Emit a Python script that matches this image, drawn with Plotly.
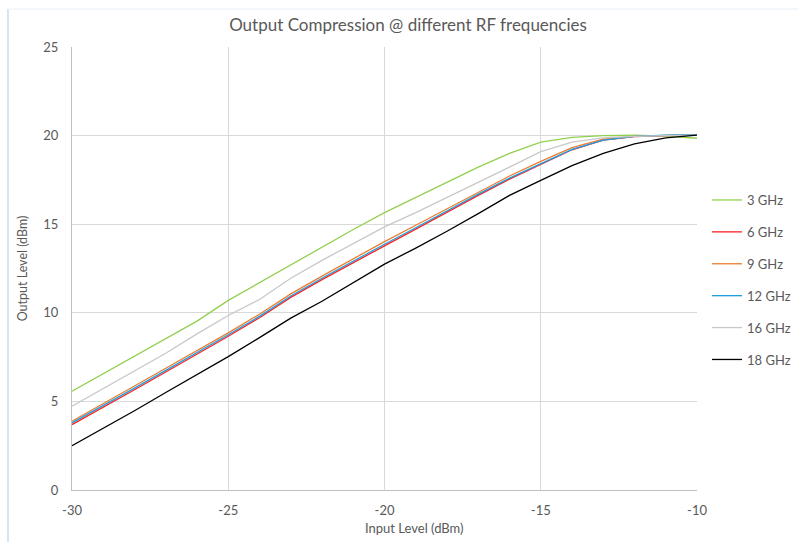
import plotly.graph_objects as go

input_dbm = [-30, -29, -28, -27, -26, -25, -24, -23, -22, -21, -20,
             -19, -18, -17, -16, -15, -14, -13, -12, -11, -10]

ghz3 = [5.57, 6.57, 7.56, 8.55, 9.53, 10.7, 11.7, 12.7, 13.7, 14.7, 15.65,
        16.5, 17.38, 18.22, 19.0, 19.63, 19.9, 20.0, 20.02, 19.97, 19.85]
ghz6 = [3.69, 4.66, 5.66, 6.66, 7.66, 8.68, 9.72, 10.87, 11.87, 12.84, 13.78,
        14.72, 15.68, 16.63, 17.54, 18.37, 19.2, 19.74, 19.94, 20.0, 20.04]
ghz9 = [3.88, 4.86, 5.87, 6.87, 7.87, 8.87, 9.92, 11.07, 12.07, 13.05, 14.02,
        14.94, 15.88, 16.82, 17.72, 18.55, 19.32, 19.8, 19.96, 20.01, 20.04]
ghz12 = [3.79, 4.75, 5.75, 6.75, 7.75, 8.76, 9.8, 10.95, 11.95, 12.92, 13.87,
         14.8, 15.75, 16.7, 17.6, 18.41, 19.22, 19.75, 19.96, 20.02, 20.05]
ghz16 = [4.73, 5.74, 6.74, 7.72, 8.81, 9.85, 10.75, 11.95, 12.96, 13.92, 14.85,
         15.65, 16.5, 17.38, 18.22, 19.1, 19.63, 19.87, 19.96, 20.0, 20.02]
ghz18 = [2.5, 3.47, 4.47, 5.5, 6.5, 7.53, 8.6, 9.7, 10.65, 11.72, 12.75,
         13.65, 14.6, 15.6, 16.63, 17.47, 18.3, 19.0, 19.53, 19.87, 20.03]

series_names = ["3 GHz", "6 GHz", "9 GHz", "12 GHz", "16 GHz", "18 GHz"]
series_values = [ghz3, ghz6, ghz9, ghz12, ghz16, ghz18]
series_colors = ["#92d050", "#ff2020", "#ed7d31", "#1e9fe0", "#c8c8c8", "#000000"]

x_tickvals = [-30, -25, -20, -15, -10]
x_ticktext = ["-30", "-25", "-20", "-15", "-10"]
y_tickvals = [0, 5, 10, 15, 20, 25]
y_ticktext = ["0", "5", "10", "15", "20", "25"]

FONT = "Lato"
TXT = "#595959"

fig = go.Figure()
for name, vals, col in zip(series_names, series_values, series_colors):
    fig.add_trace(go.Scatter(x=input_dbm, y=vals, mode="lines", name=name,
                             legendgroup=name,
                             line=dict(color=col, width=1.3)))

fig.update_layout(
    width=798, height=542,
    margin=dict(l=72, r=101, t=47, b=52, autoexpand=False),
    paper_bgcolor="white", plot_bgcolor="white",
    font=dict(family=FONT, size=13, color=TXT),
    title=dict(text="Output Compression @ different RF frequencies",
               x=408 / 798, xanchor="center", y=1 - 25 / 542, yanchor="middle",
               font=dict(family=FONT, size=17, color=TXT)),
    showlegend=True,
    legend=dict(x=1.016, xanchor="left", y=0.474, yanchor="middle",
                font=dict(family=FONT, size=13, color=TXT),
                tracegroupgap=12, bgcolor="rgba(0,0,0,0)"),
    xaxis=dict(range=[-30, -10], tickvals=x_tickvals, ticktext=x_ticktext,
               showgrid=True, gridcolor="#d9d9d9", gridwidth=1,
               showline=True, linecolor="#bfbfbf", linewidth=1,
               zeroline=False, ticks="", ticklabelstandoff=8,
               tickfont=dict(family=FONT, size=13, color=TXT)),
    yaxis=dict(range=[0, 25], tickvals=y_tickvals, ticktext=y_ticktext,
               showgrid=True, gridcolor="#d9d9d9", gridwidth=1,
               showline=True, linecolor="#bfbfbf", linewidth=1,
               zeroline=False, ticks="", ticklabelstandoff=10,
               tickfont=dict(family=FONT, size=13, color=TXT),
               title=dict(text="Output Level (dBm)", standoff=12,
                          font=dict(family=FONT, size=12.5, color=TXT))),
)

# x-axis title, centred on the chart area as in the original
fig.add_annotation(text="Input Level (dBm)", xref="paper", yref="paper",
                   x=(414 - 72) / 625, y=(490 - 528) / 443,
                   xanchor="center", yanchor="middle", showarrow=False,
                   font=dict(family=FONT, size=13, color=TXT))

# chart-area frame (light border of the original chart object)
fig.add_shape(type="line", xref="paper", yref="paper",
              x0=(8 - 72) / 625, x1=(8 - 72) / 625,
              y0=(490 - 9) / 443, y1=(490 - 542) / 443,
              line=dict(color="#a9cde9", width=1))
fig.add_shape(type="line", xref="paper", yref="paper",
              x0=(8 - 72) / 625, x1=(798 - 72) / 625,
              y0=(490 - 9) / 443, y1=(490 - 9) / 443,
              line=dict(color="#e8f0f7", width=1))

fig.write_html("out.html")
